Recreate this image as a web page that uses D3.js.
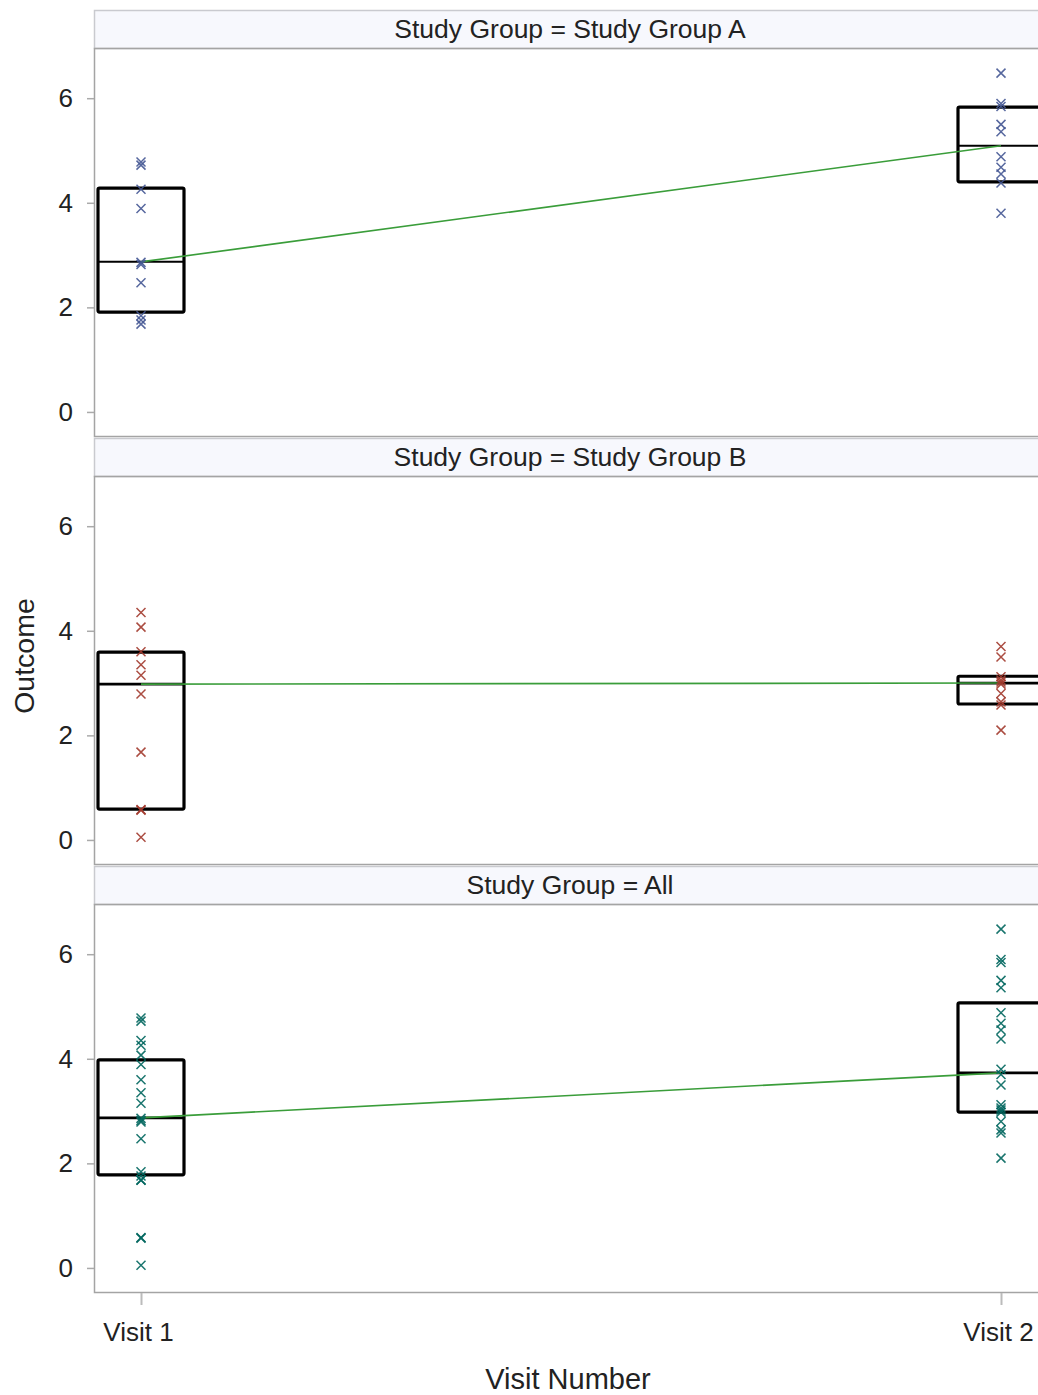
<!DOCTYPE html>
<html>
<head>
<meta charset="utf-8">
<script src="https://cdn.jsdelivr.net/npm/d3@7"></script>
<style>
  html, body { margin: 0; padding: 0; background: #fff; overflow: hidden; }
  svg { display: block; font-family: "Liberation Sans", Arial, sans-serif; }
</style>
</head>
<body>
<svg id="chart" width="1038" height="1395"></svg>
<script>
// Visits on the x axis and the panel groups
const visits = ["Visit 1", "Visit 2"];
const groups = ["Study Group A", "Study Group B", "All"];
const yTicks = [0, 2, 4, 6];

// Individual outcomes per group and visit
const groupAVisit1 = [4.78, 4.72, 4.26, 3.89, 2.86, 2.82, 2.47, 1.84, 1.76, 1.68];
const groupAVisit2 = [6.48, 5.90, 5.84, 5.50, 5.36, 4.88, 4.68, 4.55, 4.38, 3.80];
const groupBVisit1 = [4.35, 4.07, 3.60, 3.35, 3.15, 2.79, 1.68, 0.58, 0.57, 0.05];
const groupBVisit2 = [3.70, 3.50, 3.12, 3.06, 3.02, 2.98, 2.80, 2.64, 2.58, 2.10];

// Box statistics per panel (rows) and visit (columns)
const q1Values     = [[1.91, 4.40], [0.59, 2.60], [1.78, 2.98]];
const medianValues = [[2.87, 5.09], [2.98, 3.00], [2.87, 3.73]];
const q3Values     = [[4.28, 5.83], [3.59, 3.13], [3.98, 5.07]];

const markerColors = ["#445694", "#a23a2e", "#01665e"];

const panelPoints = [
  [groupAVisit1, groupAVisit2],
  [groupBVisit1, groupBVisit2],
  [groupAVisit1.concat(groupBVisit1), groupAVisit2.concat(groupBVisit2)]
];

const svg = d3.select("#chart");
const left = 94, right = 1048;
const firstTop = 10, pitch = 428, headerH = 38, plotH = 388;
const textColor = "#222";
const frameColor = "#a4a4a4";
const fontStack = "Liberation Sans, Arial, sans-serif";

const x = d3.scalePoint().domain(visits).range([141, 1001]);
const boxHalf = 43;

groups.forEach((g, i) => {
  const top = firstTop + i * pitch;
  const plotTop = top + headerH;
  const y = d3.scaleLinear().domain([-0.46, 6.96]).range([plotTop + plotH, plotTop]);

  const panel = svg.append("g").attr("class", "panel");

  // header strip
  panel.append("rect")
    .attr("x", left + 0.5).attr("y", top + 0.5)
    .attr("width", right - left).attr("height", headerH)
    .attr("fill", "#f7f8fd").attr("stroke", "#c9cacf").attr("stroke-width", 1.5);
  panel.append("text")
    .attr("x", (left + right) / 2 - 1).attr("y", top + headerH / 2)
    .attr("text-anchor", "middle").attr("dominant-baseline", "central")
    .attr("font-size", 26.5).attr("fill", textColor)
    .text("Study Group = " + g);

  // plot frame
  panel.append("rect")
    .attr("x", left + 0.5).attr("y", plotTop + 0.5)
    .attr("width", right - left).attr("height", plotH)
    .attr("fill", "none").attr("stroke", frameColor).attr("stroke-width", 1.5);

  // y axis
  const yAxis = d3.axisLeft(y).tickValues(yTicks).tickSize(7).tickPadding(14).tickFormat(d3.format("d"));
  const ya = panel.append("g").attr("transform", `translate(${left},0)`).call(yAxis);
  ya.select(".domain").remove();
  ya.selectAll(".tick line").attr("stroke", "#aaa").attr("stroke-width", 1.5);
  ya.selectAll(".tick text").attr("font-size", 26).attr("fill", textColor)
    .attr("font-family", fontStack);

  const pts = panelPoints[i];

  // boxes
  visits.forEach((v, j) => {
    const cx = x(v);
    panel.append("rect")
      .attr("x", cx - boxHalf).attr("y", y(q3Values[i][j]))
      .attr("width", boxHalf * 2).attr("height", y(q1Values[i][j]) - y(q3Values[i][j]))
      .attr("fill", "none").attr("stroke", "#000").attr("stroke-width", 3.2)
      .attr("rx", 1.5);
    panel.append("line")
      .attr("x1", cx - boxHalf).attr("x2", cx + boxHalf)
      .attr("y1", y(medianValues[i][j])).attr("y2", y(medianValues[i][j]))
      .attr("stroke", "#000").attr("stroke-width", i === 0 ? 2 : 2.8);
  });

  // line joining the medians
  panel.append("path")
    .datum(visits.map((v, j) => [x(v), y(medianValues[i][j])]))
    .attr("d", d3.line())
    .attr("fill", "none").attr("stroke", "#3a9d3a").attr("stroke-width", 1.6);

  // individual markers
  visits.forEach((v, j) => {
    const cx = x(v);
    panel.append("g").selectAll("path").data(pts[j]).join("path")
      .attr("d", d => {
        const cy = y(d), s = 4.5;
        return `M${cx - s},${cy - s}L${cx + s},${cy + s}M${cx - s},${cy + s}L${cx + s},${cy - s}`;
      })
      .attr("stroke", markerColors[i]).attr("stroke-width", 1.5).attr("fill", "none")
      .attr("opacity", 0.9);
  });

  // x axis under the last panel
  if (i === groups.length - 1) {
    const xAxis = d3.axisBottom(x).tickSize(12).tickPadding(18);
    const xa = panel.append("g").attr("transform", `translate(0,${plotTop + plotH + 1})`).call(xAxis);
    xa.select(".domain").remove();
    xa.selectAll(".tick line").attr("stroke", "#bbb").attr("stroke-width", 2);
    xa.selectAll(".tick text").attr("font-size", 26).attr("fill", textColor)
      .attr("font-family", fontStack).attr("dx", -3);
  }
});

// axis titles
svg.append("text")
  .attr("x", 568).attr("y", 1389)
  .attr("text-anchor", "middle").attr("font-size", 29).attr("fill", textColor)
  .text("Visit Number");
svg.append("text")
  .attr("transform", "translate(34,656) rotate(-90)")
  .attr("text-anchor", "middle").attr("font-size", 28.5).attr("fill", textColor)
  .text("Outcome");
</script>
</body>
</html>
